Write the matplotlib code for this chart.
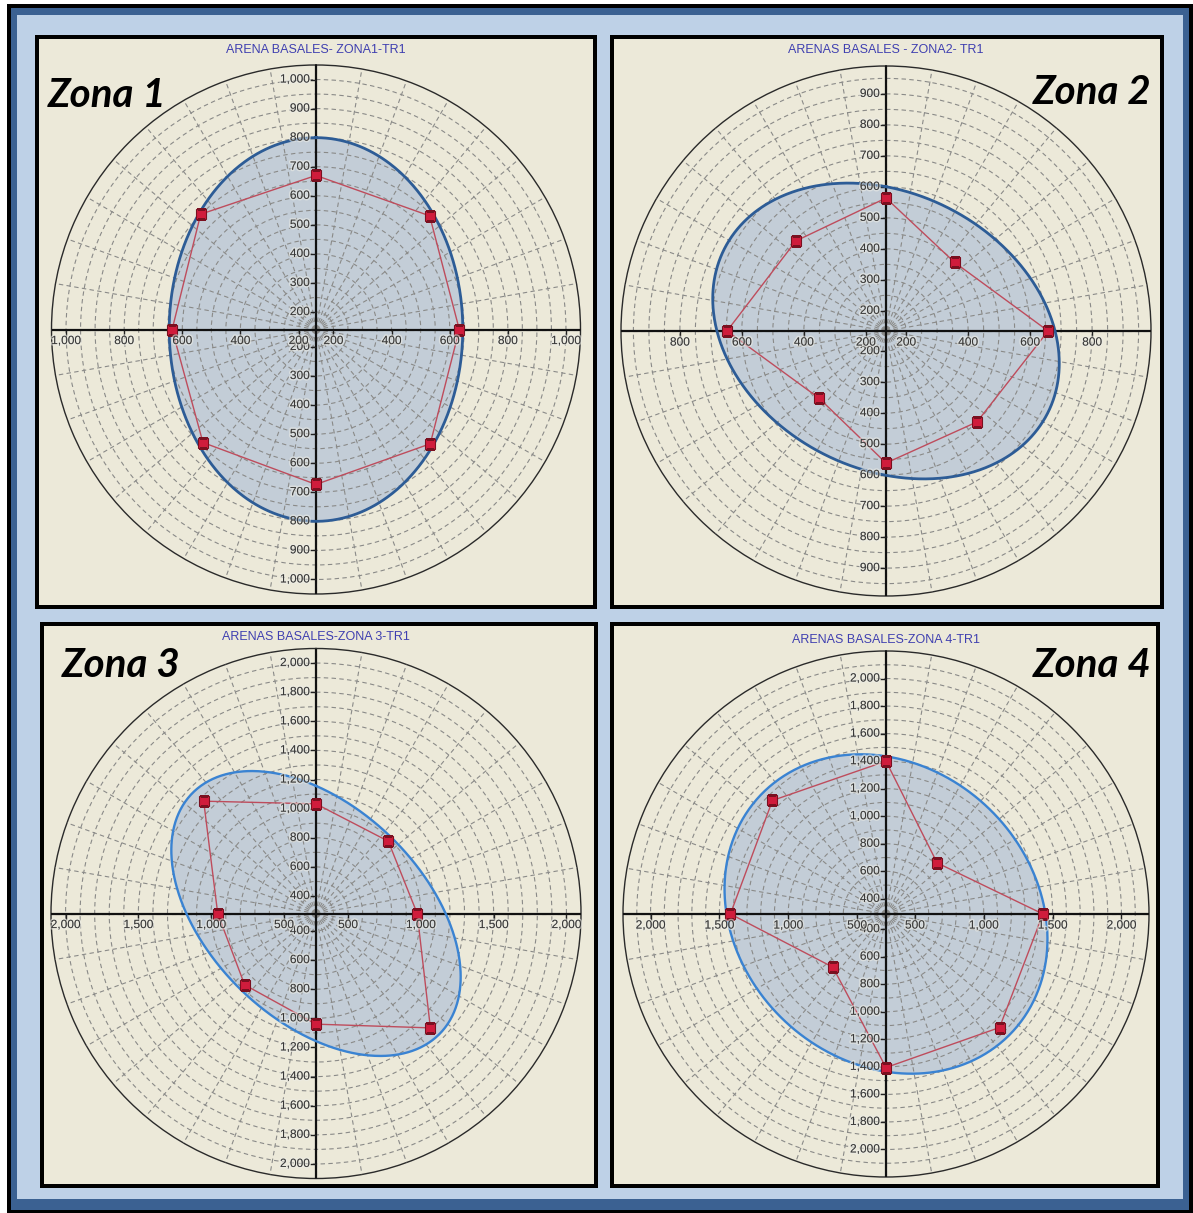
import numpy as np
import matplotlib
matplotlib.use("Agg")
import matplotlib.pyplot as plt
from matplotlib.patches import Rectangle
from matplotlib import font_manager
import matplotlib.patheffects as pe

# ---- data -------------------------------------------------------------
azimuths = [0, 45, 90, 135, 180, 225, 270, 315]

zona1_values = [670, 693, 633, 696, 673, 690, 635, 701]
zona2_values = [564, 448, 658, 550, 561, 441, 648, 546]
zona3_values = [1033, 982, 975, 1391, 1040, 973, 955, 1371]
zona4_values = [1400, 815, 1430, 1456, 1405, 836, 1420, 1456]

# fitted ellipse per zone: reach of major / minor axis and azimuth of major axis
ellipse_major = [800, 720, 1465, 1545]
ellipse_minor = [645, 580, 1015, 1360]
ellipse_azimuth = [0, 117, 134, 133]

titles = ["ARENA BASALES- ZONA1-TR1", "ARENAS BASALES - ZONA2- TR1",
          "ARENAS BASALES-ZONA 3-TR1", "ARENAS BASALES-ZONA 4-TR1"]
zone_labels = ["Zona 1", "Zona 2", "Zona 3", "Zona 4"]

vertical_ticks = [list(range(200, 1001, 100)), list(range(200, 901, 100)),
                  list(range(400, 2001, 200)), list(range(400, 2001, 200))]
horizontal_ticks = [[200, 400, 600, 800, 1000], [200, 400, 600, 800],
                    [500, 1000, 1500, 2000], [500, 1000, 1500, 2000]]

# ---- figure -----------------------------------------------------------
W, H = 1193, 1213
fig = plt.figure(figsize=(W / 100, H / 100), dpi=100)
fig.patch.set_facecolor("white")


def fig_rect(x0, y0, x1, y1, color, z=0):
    fig.add_artist(Rectangle((x0 / W, 1 - y1 / H), (x1 - x0) / W, (y1 - y0) / H,
                             transform=fig.transFigure, facecolor=color,
                             edgecolor="none", zorder=z))


# outer frame
fig_rect(7, 4, 1193, 1213, "black")
fig_rect(11, 8, 1189, 1210, "#3B6192")
fig_rect(17, 15, 1183, 1199, "#BED1E7")

panels = [(35, 35, 597, 609), (610, 35, 1164, 609),
          (40, 622, 598, 1188), (610, 622, 1160, 1188)]
for (x0, y0, x1, y1) in panels:
    fig_rect(x0, y0, x1, y1, "black")
    fig_rect(x0 + 4, y0 + 4, x1 - 4, y1 - 4, "#ECE9D9")


def pick_italic(families):
    for fam in families:
        fp = font_manager.FontProperties(family=fam, style="italic", weight="bold")
        path = font_manager.findfont(fp, fallback_to_default=False)
        name = path.lower()
        if ("italic" in name or "oblique" in name) and fam.split()[0].lower() in name.replace("-", " ").replace("_", " "):
            return fam
    return "DejaVu Sans"


label_family = pick_italic(["Lato", "Open Sans", "Liberation Sans"])

# polar plot geometry (pixel centre, pixel radius, value at centre, value at rim)
centres = [(316, 329.5, 264.5), (886, 331, 265), (316, 913.5, 265), (886, 914, 263)]
r_origin = [140, 135, 280, 290]
r_max = [1050, 990, 2100, 2200]
grid_step = [50, 50, 100, 100]
ellipse_edge = ["#2D5C96", "#2D5C96", "#3A83D2", "#3A83D2"]
ellipse_lw = [2.0, 2.0, 1.7, 1.7]

zone_values = [zona1_values, zona2_values, zona3_values, zona4_values]
title_pos = [(316, 50), (886, 50), (316, 637), (886, 640)]
zone_pos = [(48, 107, "left"), (1151, 104, "right"), (62, 677, "left"), (1152, 677, "right")]

halo = [pe.withStroke(linewidth=2.2, foreground=(0.93, 0.93, 0.90, 0.55))]

for i in range(4):
    cx, cy, R = centres[i]
    ax = fig.add_axes([(cx - R) / W, 1 - (cy + R) / H, 2 * R / W, 2 * R / H],
                      projection="polar")
    ax.set_theta_zero_location("N")
    ax.set_theta_direction(-1)
    ax.set_ylim(r_origin[i], r_max[i])
    ax.patch.set_visible(False)

    first = (r_origin[i] // grid_step[i] + 1) * grid_step[i]
    rings = np.arange(first, r_max[i] - 1, grid_step[i])
    ax.set_yticks(rings)
    ax.set_xticks(np.deg2rad(np.arange(0, 360, 10)))
    ax.set_xticklabels([])
    ax.set_yticklabels([])
    ax.tick_params(length=0)
    ax.set_axisbelow(False)
    ax.grid(True, color="#8A8A88", lw=0.8, ls=(0, (4, 3)))
    ax.spines["polar"].set_color("#2A2A2A")
    ax.spines["polar"].set_linewidth(1.0)
    for s in ("start", "end", "inner"):
        if s in ax.spines:
            ax.spines[s].set_visible(False)

    # fitted ellipse, expressed through the polar radius scale
    t = np.linspace(0, 2 * np.pi, 721)
    a = ellipse_major[i] - r_origin[i]
    b = ellipse_minor[i] - r_origin[i]
    phi = np.deg2rad(ellipse_azimuth[i])
    rho = a * b / np.sqrt((b * np.cos(t - phi)) ** 2 + (a * np.sin(t - phi)) ** 2)
    ax.fill(t, rho + r_origin[i], facecolor="#C3CDD7", edgecolor="none", zorder=1)
    ax.plot(t, rho + r_origin[i], color=ellipse_edge[i], lw=ellipse_lw[i], zorder=3.2)

    # axis cross
    for ang in (0, 90, 180, 270):
        ax.plot([np.deg2rad(ang)] * 2, [r_origin[i], r_max[i]], color="#111111",
                lw=1.6, zorder=2.8, solid_capstyle="butt")

    # axis ticks and labels
    vt = vertical_ticks[i]
    for ang in (0, 180):
        th = np.deg2rad(ang)
        ax.plot([th] * len(vt), vt, ls="none", marker=0, ms=4, mew=1.0,
                color="#222222", zorder=2.9, clip_on=False)
        for v in vt:
            ax.annotate(f"{v:,}", xy=(th, v), xytext=(-4.5, 0), textcoords="offset points",
                        ha="right", va="center", fontsize=8.6, color="#383838",
                        family="Liberation Sans", zorder=5, path_effects=halo,
                        annotation_clip=False)
    ht = horizontal_ticks[i]
    for ang in (90, 270):
        th = np.deg2rad(ang)
        ax.plot([th] * len(ht), ht, ls="none", marker=3, ms=4, mew=1.0,
                color="#222222", zorder=2.9, clip_on=False)
        for v in ht:
            ax.annotate(f"{v:,}", xy=(th, v), xytext=(0, -4), textcoords="offset points",
                        ha="center", va="top", fontsize=8.6, color="#383838",
                        family="Liberation Sans", zorder=5, path_effects=halo,
                        annotation_clip=False)

    # measured values
    vals = zone_values[i]
    th = np.deg2rad(azimuths + [azimuths[0]])
    rv = vals + [vals[0]]
    ax.plot(th, rv, color="#BE4C5C", lw=1.0, zorder=3.5)
    ax.plot(th[:-1], vals, ls="none", marker="s", ms=7.6, mfc="#D01C3C",
            mec="#7A1020", mew=0.8, zorder=4)

    tx, ty = title_pos[i]
    fig.text(tx / W, 1 - ty / H, titles[i], ha="center", va="center", fontsize=9.0,
             color="#3F3FB0", family="Liberation Sans")
    zx, zy, zha = zone_pos[i]
    fig.text(zx / W, 1 - zy / H, zone_labels[i], ha=zha, va="baseline", fontsize=29,
             fontweight="bold", fontstyle="italic", family=label_family, color="black")

fig.savefig("out.png", dpi=100, facecolor=fig.get_facecolor())
